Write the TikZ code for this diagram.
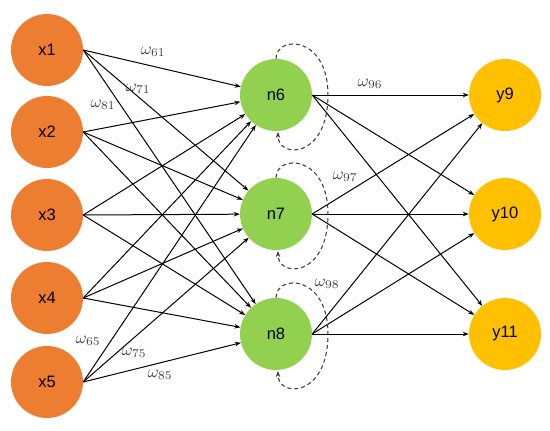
\documentclass[tikz,border=0pt]{standalone}
\usepackage{fontspec}
\setsansfont{Liberation Sans}
\usetikzlibrary{arrows.meta,calc}
\definecolor{inorange}{HTML}{ED7D31}
\definecolor{hidgreen}{HTML}{92D050}
\definecolor{outyellow}{HTML}{FFC000}
\definecolor{wgray}{HTML}{404040}
\newcommand{\wlab}[1]{\scalebox{1.7}{$\omega_{#1}$}}
\begin{document}
\begin{tikzpicture}[x=1pt,y=-1pt,
  neuron/.style={circle,minimum size=72pt,inner sep=0pt,draw=none,font=\sffamily\fontsize{16.5}{18}\selectfont},
  innode/.style={neuron,fill=inorange},
  hidnode/.style={neuron,fill=hidgreen},
  outnode/.style={neuron,fill=outyellow},
  conn/.style={black,line width=1pt,-{Stealth[length=6pt,width=4.5pt]}},
  selfloop/.style={black!80,line width=1pt,dash pattern=on 4pt off 3pt,-{Stealth[length=6pt,width=4.5pt]}},
  wlabel/.style={text=wgray,inner sep=1pt}]
\useasboundingbox (0,0) rectangle (550,431);
\node[innode] (x1) at (47,50) {x1};
\node[innode] (x2) at (47,132) {x2};
\node[innode] (x3) at (47,215) {x3};
\node[innode] (x4) at (47,298) {x4};
\node[innode] (x5) at (47,382) {x5};
\node[hidnode] (n6) at (276,95) {n6};
\node[hidnode] (n7) at (276,214) {n7};
\node[hidnode] (n8) at (276,334) {n8};
\node[outnode] (y9) at (505,95) {y9};
\node[outnode] (y10) at (505,214) {y10};
\node[outnode] (y11) at (505,334) {y11};
\foreach \i in {x1,x2,x3,x4,x5}{
  \foreach \j in {n6,n7,n8}{
    \draw[conn] (\i.east) -- (\j);
  }
}
\foreach \j in {n6,n7,n8}{
  \foreach \k in {y9,y10,y11}{
    \draw[conn] (\j.east) -- (\k);
  }
  \draw[selfloop] (\j.north) .. controls ($(\j)+(0,-60)$) and ($(\j)+(52,-60)$) .. ($(\j)+(52,0)$)
     .. controls ($(\j)+(52,64)$) and ($(\j)+(2,64)$) .. ($(\j)+(2,37)$);
}
\node[wlabel] (w61) at (153,52) {\wlab{61}};
\node[wlabel] (w71) at (138,89) {\wlab{71}};
\node[wlabel] (w81) at (103,105) {\wlab{81}};
\node[wlabel] (w65) at (88,341) {\wlab{65}};
\node[wlabel] (w75) at (134,353) {\wlab{75}};
\node[wlabel] (w85) at (160,375) {\wlab{85}};
\node[wlabel] (w96) at (370,84) {\wlab{96}};
\node[wlabel] (w97) at (345,177) {\wlab{97}};
\node[wlabel] (w98) at (327,284) {\wlab{98}};
\end{tikzpicture}
\end{document}
